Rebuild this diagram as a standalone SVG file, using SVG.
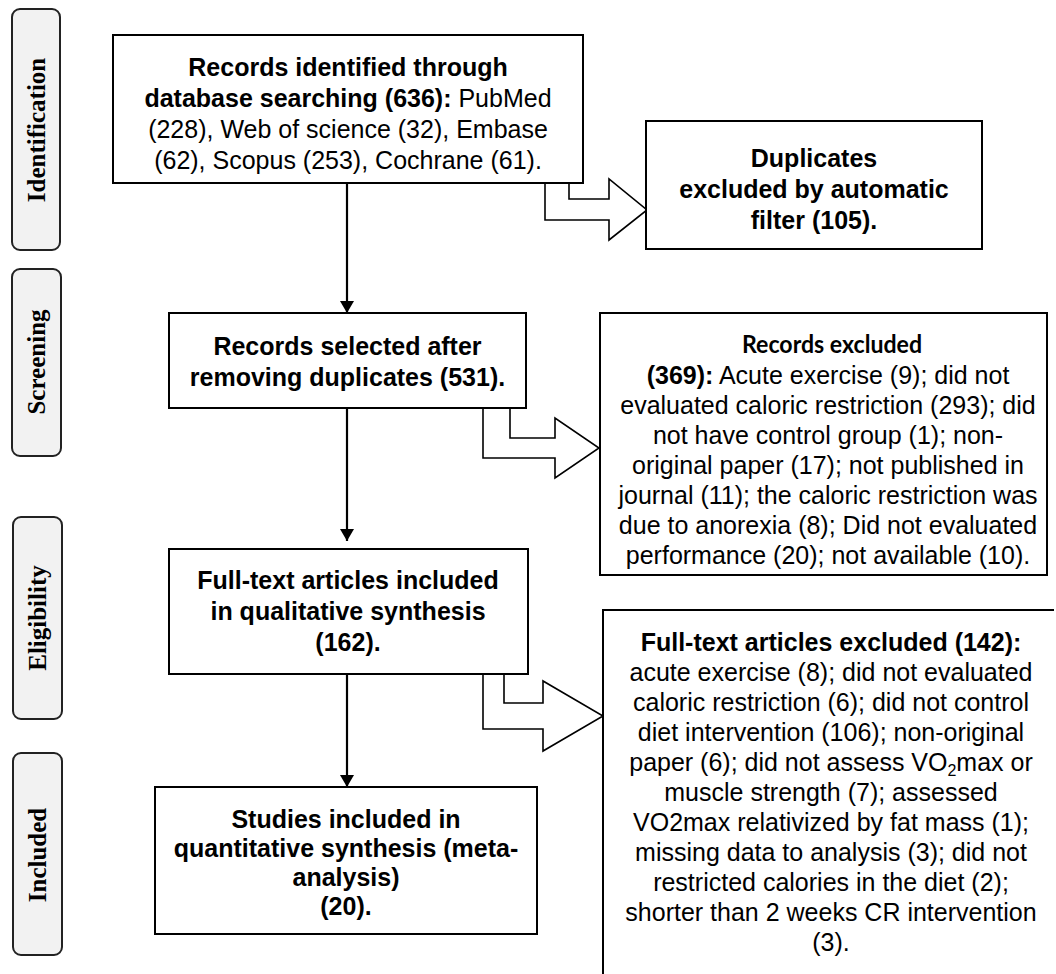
<svg xmlns="http://www.w3.org/2000/svg" width="1056" height="974" viewBox="0 0 1056 974">
<style>
.bg{fill:#ffffff}
.box{fill:#ffffff;stroke:#000;stroke-width:2}
.side{fill:#f2f2f2;stroke:#222;stroke-width:2}
.sidet{font-family:"Liberation Serif","Times New Roman",serif;font-weight:bold;font-size:25px;fill:#000}
.t{font-family:"Liberation Sans",Arial,sans-serif;font-size:25px;fill:#000;text-anchor:middle}
.b{font-weight:bold}
.cal{font-family:Lato,"Open Sans",sans-serif;font-weight:bold;font-size:24px;fill:#000;text-anchor:middle}
.line{fill:none;stroke:#000;stroke-width:2.2}
.block{fill:#fff;stroke:#000;stroke-width:1.6;stroke-linejoin:miter}
</style>
<defs>
<marker id="ah" markerUnits="userSpaceOnUse" markerWidth="14" markerHeight="14" refX="12" refY="7" orient="auto">
<path d="M0,0 L12,7 L0,14 Z" fill="#000"/>
</marker>
</defs>
<rect class="bg" x="0" y="0" width="1056" height="974"/>

<g id="stages">
<g id="stage-identification">
<rect class="side" x="12" y="9" width="48" height="241" rx="8"/>
<text class="sidet" transform="translate(45,130) rotate(-90)" text-anchor="middle">Identification</text>
</g>
<g id="stage-screening">
<rect class="side" x="12" y="269" width="49" height="187" rx="8"/>
<text class="sidet" transform="translate(45,362) rotate(-90)" text-anchor="middle">Screening</text>
</g>
<g id="stage-eligibility">
<rect class="side" x="13" y="517" width="49" height="202" rx="8"/>
<text class="sidet" transform="translate(46,618) rotate(-90)" text-anchor="middle">Eligibility</text>
</g>
<g id="stage-included">
<rect class="side" x="13" y="753" width="49" height="202" rx="8"/>
<text class="sidet" transform="translate(46,855) rotate(-90)" text-anchor="middle">Included</text>
</g>
</g>

<g id="connectors">
<line class="line" x1="347" y1="183" x2="347" y2="313" marker-end="url(#ah)"/>
<line class="line" x1="347" y1="408" x2="347" y2="541" marker-end="url(#ah)"/>
<line class="line" x1="347" y1="674" x2="347" y2="787" marker-end="url(#ah)"/>
<path class="block" d="M545,183 L545,220 L609,220 L609,240 L647,210 L609,179 L609,199 L569,199 L569,183"/>
<path class="block" d="M483,408 L483,458 L555,458 L555,478 L599,448 L555,418 L555,438 L510,438 L510,408"/>
<path class="block" d="M483,674 L483,729 L543,729 L543,751 L603,716 L543,681 L543,703 L504,703 L504,674"/>
</g>

<g id="node-identified">
<rect class="box" x="113" y="35" width="470" height="148"/>
<text class="t b" x="348" y="76">Records identified through</text>
<text class="t" x="348" y="107"><tspan class="b">database searching (636):</tspan> PubMed</text>
<text class="t" x="348" y="138">(228), Web of science (32), Embase</text>
<text class="t" x="348" y="169">(62), Scopus (253), Cochrane (61).</text>
</g>

<g id="node-duplicates">
<rect class="box" x="646" y="121" width="336" height="128"/>
<text class="t b" x="814" y="167">Duplicates</text>
<text class="t b" x="814" y="198">excluded by automatic</text>
<text class="t b" x="814" y="229">filter (105).</text>
</g>

<g id="node-selected">
<rect class="box" x="169" y="313" width="357" height="95"/>
<text class="t b" x="347.5" y="355">Records selected after</text>
<text class="t b" x="347.5" y="386">removing duplicates (531).</text>
</g>

<g id="node-records-excluded">
<rect class="box" x="600" y="313" width="447" height="262"/>
<text class="cal" x="832" y="353" textLength="180" lengthAdjust="spacingAndGlyphs">Records excluded</text>
<text class="t" x="828" y="384"><tspan class="b">(369):</tspan> Acute exercise (9); did not</text>
<text class="t" x="828" y="414">evaluated caloric restriction (293); did</text>
<text class="t" x="828" y="444">not have control group (1); non-</text>
<text class="t" x="828" y="474">original paper (17); not published in</text>
<text class="t" x="828" y="504">journal (11); the caloric restriction was</text>
<text class="t" x="828" y="534">due to anorexia (8); Did not evaluated</text>
<text class="t" x="828" y="564">performance (20); not available (10).</text>
</g>

<g id="node-fulltext-included">
<rect class="box" x="169" y="549" width="359" height="125"/>
<text class="t b" x="348" y="589">Full-text articles included</text>
<text class="t b" x="348" y="620">in qualitative synthesis</text>
<text class="t b" x="348" y="651">(162).</text>
</g>

<g id="node-fulltext-excluded">
<path class="box" d="M1054,610 L603,610 L603,980"/>
<text class="t b" x="831" y="651">Full-text articles excluded (142):</text>
<text class="t" x="831" y="681">acute exercise (8); did not evaluated</text>
<text class="t" x="831" y="711">caloric restriction (6); did not control</text>
<text class="t" x="831" y="741">diet intervention (106); non-original</text>
<text class="t" x="831" y="771">paper (6); did not assess VO<tspan dy="5" font-size="16">2</tspan><tspan dy="-5">max or</tspan></text>
<text class="t" x="831" y="801">muscle strength (7); assessed</text>
<text class="t" x="831" y="831">VO2max relativized by fat mass (1);</text>
<text class="t" x="831" y="861">missing data to analysis (3); did not</text>
<text class="t" x="831" y="891">restricted calories in the diet (2);</text>
<text class="t" x="831" y="921">shorter than 2 weeks CR intervention</text>
<text class="t" x="831" y="951">(3).</text>
</g>

<g id="node-studies-included">
<rect class="box" x="155" y="787" width="382" height="147"/>
<text class="t b" x="346" y="828">Studies included in</text>
<text class="t b" x="346" y="857">quantitative synthesis (meta-</text>
<text class="t b" x="346" y="886">analysis)</text>
<text class="t b" x="346" y="915">(20).</text>
</g>
</svg>
